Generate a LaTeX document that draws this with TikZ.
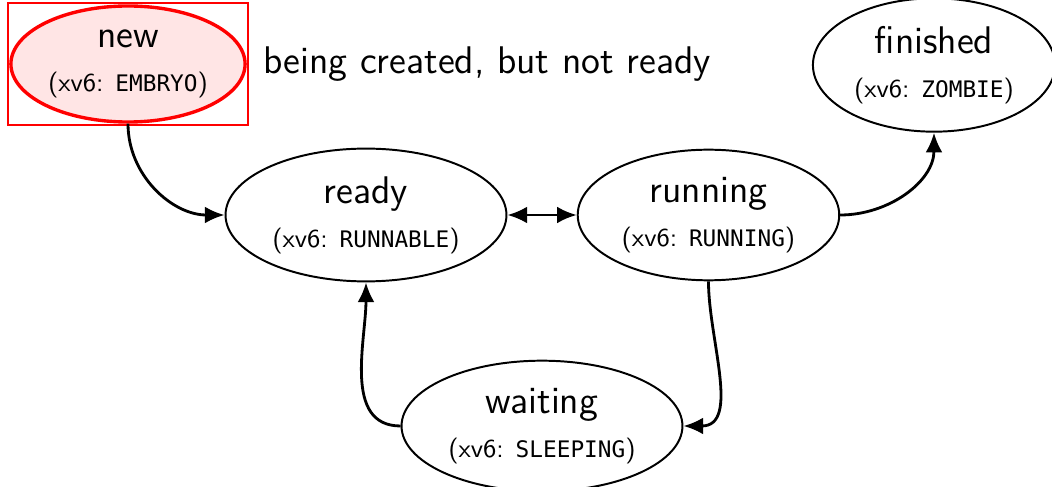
\documentclass[tikz,border=0pt]{standalone}
\usepackage{fontspec}
\setmonofont[Scale=0.88]{DejaVu Sans Mono}
\usetikzlibrary{arrows.meta, shapes.geometric, positioning, fit}

\newcommand{\xvsix}[1]{{\fontsize{9.2}{11}\selectfont (xv6: \texttt{#1})}}

\begin{document}
\begin{tikzpicture}[
	proc/.style={ellipse, draw, line width=0.7pt, align=center, inner xsep=2pt, inner ysep=3pt, font=\sffamily\fontsize{13.7}{15.6}\selectfont},
	trans/.style={line width=1pt, -{Latex[length=7pt, width=6pt]}}
]
	\useasboundingbox (0, 0) rectangle (13.15, 6.0875);
	% States:
	\node[proc, draw=red, fill=red!10, line width=1.2pt, inner xsep=1pt, inner ysep=2.5pt] (new) at (1.6, 5.2875){new\\\xvsix{EMBRYO}};
	\node[draw=red, line width=0.8pt, inner sep=0.5pt, fit=(new)] (newbox){};
	\node[right=0.05cm of newbox, font=\sffamily\fontsize{13.7}{15.6}\selectfont] (newnote){being created, but not ready};
	\node[proc] (ready) at (4.575, 3.4){ready\\\xvsix{RUNNABLE}};
	\node[proc] (running) at (8.856, 3.4){running\\\xvsix{RUNNING}};
	\node[proc] (finished) at (11.675, 5.275){finished\\\xvsix{ZOMBIE}};
	\node[proc] (waiting) at (6.775, 0.7625){waiting\\\xvsix{SLEEPING}};
	% Transitions:
	\draw[trans] (new.south) to[out=-90, in=180] (ready.west);
	\draw[trans, {Latex[length=7pt, width=6pt]}-{Latex[length=7pt, width=6pt]}] (ready) -- (running);
	\draw[trans] (running.east) to[out=0, in=-90] (finished.south);
	\draw[trans] (running.south) to[out=-90, in=0] (waiting.east);
	\draw[trans] (waiting.west) to[out=180, in=-90] (ready.south);
\end{tikzpicture}
\end{document}
